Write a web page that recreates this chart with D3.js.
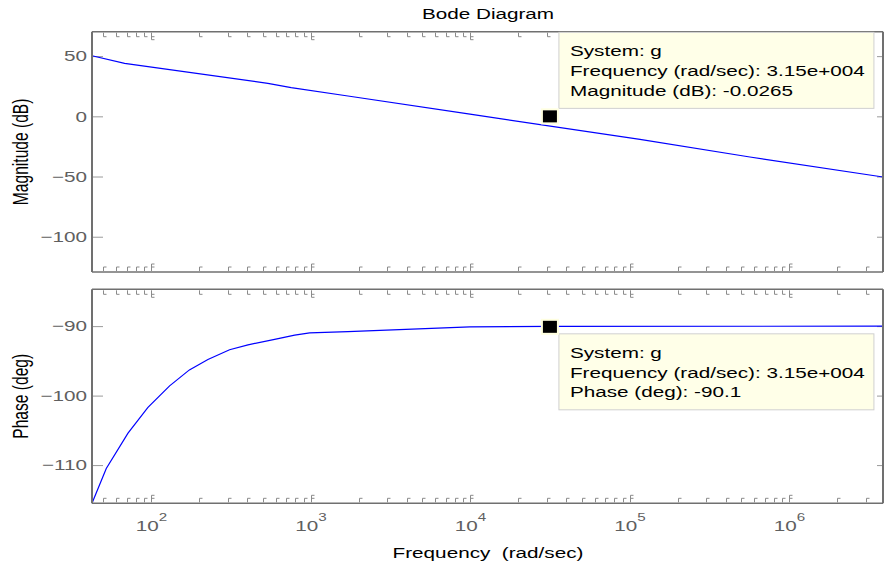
<!DOCTYPE html>
<html>
<head>
<meta charset="utf-8">
<script src="https://cdn.jsdelivr.net/npm/d3@7"></script>
<style>
  html, body { margin: 0; padding: 0; background: #ffffff; }
  svg { display: block; }
  text { font-family: "Liberation Sans", Arial, sans-serif; white-space: pre; }
</style>
</head>
<body>
<svg id="chart" width="884" height="567"></svg>
<script>
// ---------------- data ----------------
const freqMag   = [42.4, 67.9, 537, 752, 1706, 9934, 115600, 565000, 3860000];
const magDb     = [50.3, 44.0, 27.4, 23.8, 16.9, 1.8, -19.1, -33.8, -50.4];
const freqPhase = [42.4, 52.1, 71.3, 95.1, 130, 173, 226, 309, 403, 592, 791, 982, 1706, 9934, 31500, 3860000];
const phaseDeg  = [-115.5, -110.5, -105.4, -101.7, -98.6, -96.3, -94.8, -93.4, -92.7, -91.9, -91.3, -90.96, -90.8, -90.1, -90.05, -90.0];
const magTicks   = [50, 0, -50, -100];
const phaseTicks = [-90, -100, -110];
const decadeExps = [2, 3, 4, 5, 6];
const freqLimits = [42.4, 3860000];
const magLimits  = [-129.3, 70.3];
const phaseLimits = [-115.5, -84.7];
const tipFreq = 31500, tipMag = -0.0265, tipPhase = -90.1;
const tipMagLines = ["System: g", "Frequency (rad/sec): 3.15e+004", "Magnitude (dB): -0.0265"];
const tipPhaseLines = ["System: g", "Frequency (rad/sec): 3.15e+004", "Phase (deg): -90.1"];

// ---------------- layout ----------------
const SX = 1.38;           // horizontal text stretch seen in the reference
const L = 92, R = 883;
const magTop = 31.7, magBot = 272;
const phTop = 289.3, phBot = 503.3;
const frameCol = "#707070", tickCol = "#8a8a8a", labelCol = "#5f5f5f";

const svg = d3.select("#chart");
const x = d3.scaleLog().domain(freqLimits).range([L, R]);
const yMag = d3.scaleLinear().domain(magLimits).range([magBot, magTop]);
const yPh = d3.scaleLinear().domain(phaseLimits).range([phBot, phTop]);

function sText(parent, px, py, str, opts = {}) {
  const g = parent.append("g").attr("transform", `translate(${px},${py}) scale(${SX},1)` + (opts.rotate ? ` rotate(${opts.rotate})` : ""));
  const t = g.append("text")
    .attr("text-anchor", opts.anchor || "start")
    .attr("font-size", opts.size || 15)
    .attr("fill", opts.fill || "#000");
  if (opts.dy) t.attr("dy", opts.dy);
  t.text(str);
  return t;
}

// title & labels
sText(svg, 488, 19, "Bode Diagram", {anchor: "middle"});
sText(svg, 488, 558, "Frequency  (rad/sec)", {anchor: "middle", size: 15});
sText(svg, 27.5, (magTop + magBot) / 2, "Magnitude (dB)", {anchor: "middle", rotate: -90, size: 15.6});
sText(svg, 27.5, (phTop + phBot) / 2, "Phase (deg)", {anchor: "middle", rotate: -90, size: 15.6});

// frequency ticks (minor + major)
const minorFreqs = [];
for (let k = 1; k <= 6; k++) for (let m = 2; m <= 9; m++) {
  const f = m * Math.pow(10, k);
  if (f > freqLimits[0] && f < freqLimits[1]) minorFreqs.push(f);
}
const majorFreqs = decadeExps.map(e => Math.pow(10, e));

function freqTicks(yEdge, dir) {
  const g = svg.append("g").attr("stroke", tickCol).attr("stroke-width", 1).attr("fill", "none");
  g.selectAll("path.minor").data(minorFreqs).join("path")
    .attr("d", f => { const px = Math.round(x(f)) + 0.5; return `M${px},${yEdge} V${yEdge + dir * 4} H${px + 3}`; });
  g.selectAll("path.major").data(majorFreqs).join("path")
    .attr("d", f => { const px = Math.round(x(f)) + 0.5; return `M${px},${yEdge} V${yEdge + dir * 7} H${px + 3} M${px},${yEdge + dir * 4} H${px + 3}`; });
}
freqTicks(magTop + 1, 1);
freqTicks(magBot - 1, -1);
freqTicks(phTop + 1, 1);
freqTicks(phBot - 1, -1);

// y axes via d3 axes (ticks inward, labels outside)
function yAxes(scale, ticks) {
  const gl = svg.append("g").attr("transform", `translate(${L},0)`)
    .call(d3.axisLeft(scale).tickValues(ticks).tickSizeInner(-11).tickSizeOuter(0).tickPadding(5).tickFormat(d3.format("d")));
  gl.select(".domain").remove();
  gl.selectAll(".tick line").attr("stroke", "#9a9a9a");
  gl.selectAll(".tick text").attr("x", -5 / SX).attr("transform", `scale(${SX},1)`)
    .attr("font-size", 15).attr("fill", labelCol).attr("font-family", "Liberation Sans, Arial, sans-serif");
  const gr = svg.append("g").attr("transform", `translate(${R},0)`)
    .call(d3.axisRight(scale).tickValues(ticks).tickSizeInner(-6).tickSizeOuter(0).tickFormat(""));
  gr.select(".domain").remove();
  gr.selectAll(".tick line").attr("stroke", "#9a9a9a");
}
yAxes(yMag, magTicks);
yAxes(yPh, phaseTicks);

// x tick labels 10^k
decadeExps.forEach(e => {
  const t = sText(svg, x(Math.pow(10, e)), 531, "10", {anchor: "middle", fill: labelCol});
  t.append("tspan").attr("font-size", 11).attr("dy", -10).text(e);
});

// curves
const line = (ys) => d3.line().x(d => x(d[0])).y(d => ys(d[1]));
svg.append("path").datum(d3.zip(freqMag, magDb))
  .attr("d", line(yMag)).attr("fill", "none").attr("stroke", "#0000ff").attr("stroke-width", 1.2);
svg.append("path").datum(d3.zip(freqPhase, phaseDeg))
  .attr("d", line(yPh)).attr("fill", "none").attr("stroke", "#0000ff").attr("stroke-width", 1.2);

// frames
function frame(t, b) {
  const g = svg.append("g").attr("stroke", frameCol).attr("fill", "none");
  g.append("line").attr("x1", L).attr("x2", R).attr("y1", t).attr("y2", t).attr("stroke-width", 1.5);
  g.append("line").attr("x1", L).attr("x2", R).attr("y1", b).attr("y2", b).attr("stroke-width", 1.5);
  g.append("line").attr("x1", L).attr("x2", L).attr("y1", t).attr("y2", b).attr("stroke-width", 2);
  g.append("line").attr("x1", R).attr("x2", R).attr("y1", t).attr("y2", b).attr("stroke-width", 2);
}
frame(magTop, magBot);
frame(phTop, phBot);

// data tips
function dataTip(cx, cy, lines, above) {
  const g = svg.append("g");
  const bx = cx + 9, bw = 315, bh = 76;
  const by = above ? cy - 8 - bh : cy + 7;
  g.append("rect").attr("x", bx).attr("y", by).attr("width", bw).attr("height", bh)
    .attr("fill", "#ffffe8").attr("stroke", "#d0d0d0").attr("stroke-width", 1);
  lines.forEach((s, i) => sText(g, bx + 11, by + 24 + i * 19.7, s, {size: 15}));
  g.append("rect").attr("x", cx - 9).attr("y", cy - 8).attr("width", 18).attr("height", 16).attr("fill", "#ffffe0");
  g.append("rect").attr("x", cx - 7).attr("y", cy - 6).attr("width", 14).attr("height", 12).attr("fill", "#000");
}
dataTip(x(tipFreq), yMag(tipMag), tipMagLines, true);
dataTip(x(tipFreq), yPh(tipPhase), tipPhaseLines, false);
</script>
</body>
</html>
